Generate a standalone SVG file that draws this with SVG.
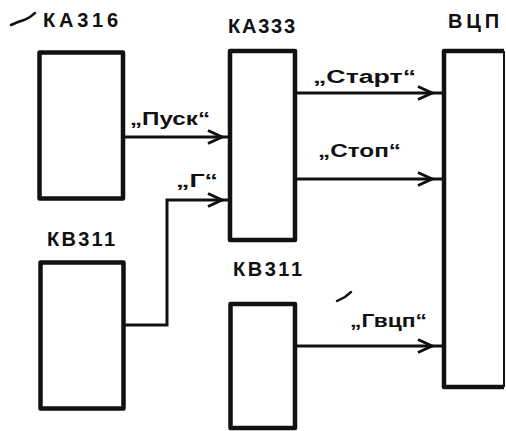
<svg xmlns="http://www.w3.org/2000/svg" width="506" height="431" viewBox="0 0 506 431">
<style>
.box{fill:none;stroke:#111;stroke-width:4.5;stroke-linejoin:round}
.ln{fill:none;stroke:#111;stroke-width:3}
.hd{font-family:"Liberation Sans",Arial,sans-serif;font-weight:bold;font-size:20px;fill:#111}
.sg{font-family:"Liberation Sans",Arial,sans-serif;font-weight:bold;font-size:18px;fill:#111}
.mk{fill:none;stroke:#111;stroke-width:2.5;stroke-linecap:round}
</style>
<defs>
<marker id="arrA" markerUnits="userSpaceOnUse" viewBox="0 0 30 16" markerWidth="30" markerHeight="16" refX="26" refY="8" orient="auto">
<path d="M2,1.5 L16,8 L2,14.5" fill="none" stroke="#111" stroke-width="3"/>
</marker>
<marker id="arrB" markerUnits="userSpaceOnUse" viewBox="0 0 30 16" markerWidth="30" markerHeight="16" refX="22" refY="8" orient="auto">
<path d="M2,1.5 L16,8 L2,14.5" fill="none" stroke="#111" stroke-width="3"/>
</marker>
</defs>
<rect width="506" height="431" fill="#fff"/>

<g id="connectors">
<path class="ln" d="M123,137 H228" marker-end="url(#arrB)"/>
<path class="ln" d="M123,325 H167 V200 H228" marker-end="url(#arrB)"/>
<path class="ln" d="M295,93 H442" marker-end="url(#arrA)"/>
<path class="ln" d="M295,179 H442" marker-end="url(#arrA)"/>
<path class="ln" d="M295,346 H442" marker-end="url(#arrA)"/>
<text class="sg" x="130" y="125" textLength="80" lengthAdjust="spacingAndGlyphs">„Пуск“</text>
<text class="sg" x="176" y="187" textLength="42" lengthAdjust="spacingAndGlyphs">„Г“</text>
<text class="sg" x="313" y="83" textLength="103" lengthAdjust="spacingAndGlyphs">„Старт“</text>
<text class="sg" x="318" y="157" textLength="83" lengthAdjust="spacingAndGlyphs">„Стоп“</text>
<text class="sg" x="350" y="327" textLength="77" lengthAdjust="spacingAndGlyphs">„Гвцп“</text>
</g>

<g id="ka316">
<rect class="box" x="39.5" y="52.5" width="83.5" height="146"/>
<text class="hd" x="43" y="27" textLength="75" lengthAdjust="spacing">КА316</text>
</g>

<g id="ka333">
<rect class="box" x="230" y="51" width="65" height="189"/>
<text class="hd" x="228" y="33" textLength="67" lengthAdjust="spacing">КА333</text>
</g>

<g id="vcp">
<path class="box" d="M504,51 H444 V387 H504"/>
<path fill="none" stroke="#111" stroke-width="2" d="M504,51 V387"/>
<text class="hd" x="448" y="28" textLength="51" lengthAdjust="spacing">ВЦП</text>
</g>

<g id="kv311a">
<rect class="box" x="40.5" y="262.5" width="83" height="146"/>
<text class="hd" x="47" y="246" textLength="68" lengthAdjust="spacing">КВ311</text>
</g>

<g id="kv311b">
<rect class="box" x="230.5" y="304" width="64.5" height="124"/>
<text class="hd" x="233" y="276" textLength="69" lengthAdjust="spacing">КВ311</text>
</g>

<path class="mk" d="M11,25 L18,22 L24,20 L30,17 L35,13"/>
<path class="mk" d="M337,301 L345,297 L351,292"/>
</svg>
